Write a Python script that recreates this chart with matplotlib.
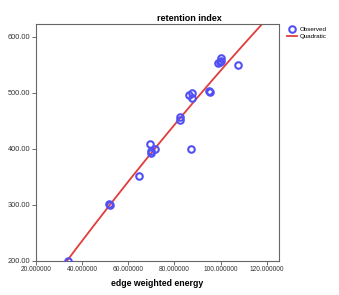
import numpy as np
import matplotlib
matplotlib.use("Agg")
import matplotlib.pyplot as plt
from matplotlib.lines import Line2D

plt.rcParams['font.family'] = ['Liberation Sans', 'DejaVu Sans']

# Observed data (edge weighted energy vs retention index)
energy = [33.7, 51.6, 52.0, 64.5, 69.5, 69.7, 70.0, 71.7, 82.3, 82.5, 86.3,
          87.6, 87.8, 87.3, 95.0, 95.2, 99.0, 99.8, 100.0, 100.3, 107.7]
retention = [200, 301, 300, 352, 408, 392, 395, 400, 457, 451, 496,
             500, 490, 399, 503, 502, 553, 554, 561, 556, 550]

xticks = [20, 40, 60, 80, 100, 120]
yticks = [200, 300, 400, 500, 600]

blue = '#5050f5'
red = '#e23c3c'

fig = plt.figure(figsize=(3.39, 2.95), dpi=100)
ax = fig.add_axes([36/339, 1-260.7/295, (279-36)/339, (260.7-24)/295])

x = np.array(energy)
y = np.array(retention)
coef = np.polyfit(x, y, 2)
xs = np.linspace(20, 125.3, 300)
ax.plot(xs, np.polyval(coef, xs), color=red, lw=1.3, zorder=2)
ax.plot(x, y, linestyle='none', marker='o', ms=4.7, mfc='none', mec=blue, mew=1.5, zorder=3)

ax.set_xlim(20, 125.3)
ax.set_ylim(200, 622.5)
ax.set_xticks(xticks)
ax.set_yticks(yticks)
ax.set_xticklabels([f"{v:.6f}" for v in xticks], fontsize=4.8, color='#333333')
ax.set_yticklabels([f"{v:.2f}" for v in yticks], fontsize=5.3, color='#333333')
ax.tick_params(axis='both', length=3, width=0.6, color='#555555', pad=1)
for s in ax.spines.values():
    s.set_color('#666666')
    s.set_linewidth(0.8)

ax.set_xlabel('edge weighted energy', fontsize=6.3, fontweight='bold', labelpad=4)
fig.text(189/339, 1-18.5/295, 'retention index', fontsize=6.5, fontweight='bold',
         ha='center', va='center')

handles = [Line2D([], [], linestyle='none', marker='o', ms=4.7, mfc='none', mec=blue, mew=1.5),
           Line2D([], [], color=red, lw=1.3)]
fig.legend(handles, ['Observed', 'Quadratic'], loc='upper left',
           bbox_to_anchor=(283/339, 1-22/295), frameon=False, fontsize=4.5,
           handlelength=1.6, handletextpad=0.4, labelspacing=0.3, borderpad=0.2)

fig.savefig('out.png', dpi=100)
